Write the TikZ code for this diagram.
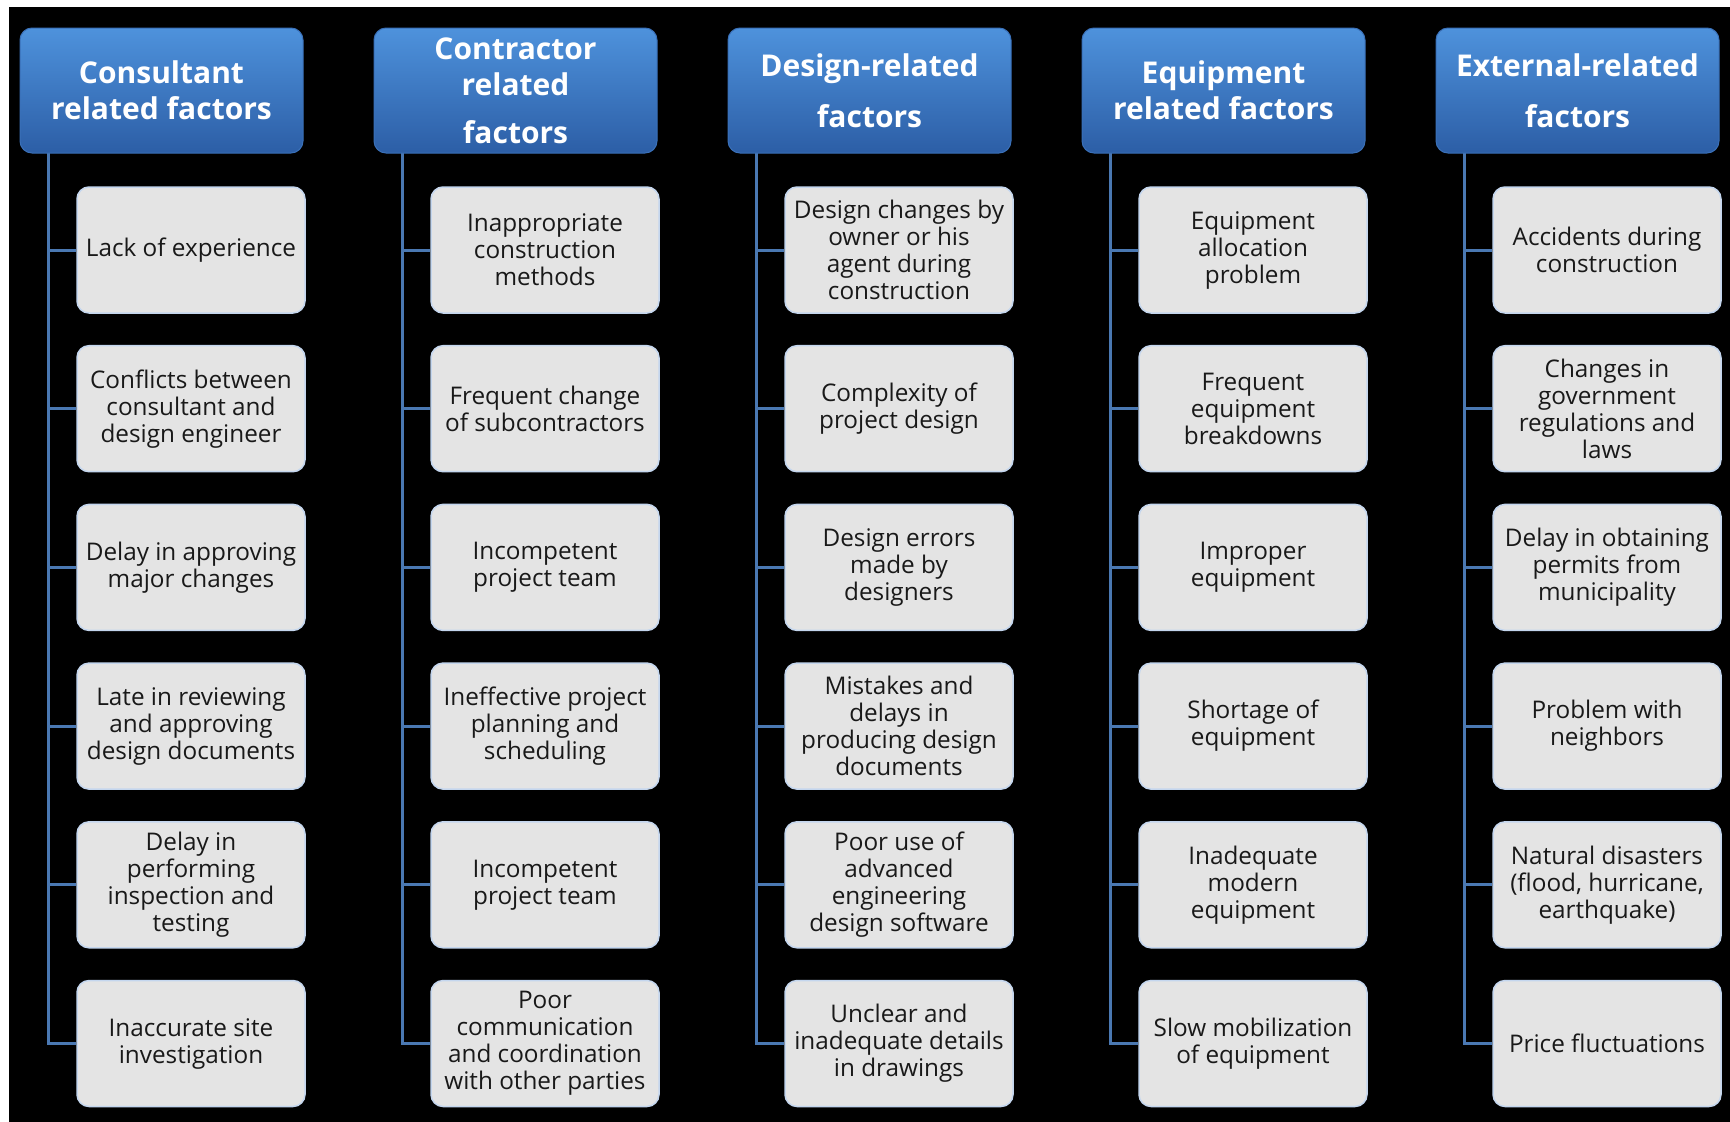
\documentclass[tikz,border=0pt]{standalone}
\usepackage{fontspec}
\setmainfont{Open Sans}
\usetikzlibrary{backgrounds}
\definecolor{hdtop}{RGB}{78,146,220}
\definecolor{hdbot}{RGB}{44,94,166}
\definecolor{hdedge}{RGB}{58,112,184}
\definecolor{itemfill}{RGB}{228,228,228}
\definecolor{itemedge}{RGB}{196,214,238}
\definecolor{linkcol}{RGB}{74,120,178}
\definecolor{itemtext}{RGB}{25,25,25}
\tikzset{
  header/.style={rounded corners=12pt, top color=hdtop, bottom color=hdbot,
    draw=hdedge, line width=1pt, minimum width=283pt, minimum height=125pt,
    inner sep=0pt, align=center, text=white,
    font=\fontsize{30}{36}\selectfont\bfseries},
  item/.style={rounded corners=12pt, fill=itemfill, draw=itemedge,
    line width=1.5pt, minimum width=228pt, minimum height=126pt,
    inner sep=0pt, align=center, text=itemtext,
    font=\fontsize{24.3}{27}\selectfont},
  link/.style={draw=linkcol, line width=3pt},
}
\begin{document}
\begin{tikzpicture}[x=1pt, y=-1pt]
\useasboundingbox (0,0) rectangle (1730,1122);

% column 1: consultant
\node[header] (h1) at (161.5,90.5) {Consultant\\related factors};
\coordinate (s1) at (48,153);
\node[item] (b11) at (191,250)    {Lack of experience};
\node[item] (b12) at (191,408.7)  {Conflicts between\\consultant and\\design engineer};
\node[item] (b13) at (191,567.4)  {Delay in approving\\major changes};
\node[item] (b14) at (191,726.1)  {Late in reviewing\\and approving\\design documents};
\node[item] (b15) at (191,884.8)  {Delay in\\performing\\inspection and\\testing};
\node[item] (b16) at (191,1043.5) {Inaccurate site\\investigation};

% column 2: contractor
\node[header] (h2) at (515.5,90.5) {Contractor\\related\\[12pt]factors};
\coordinate (s2) at (402,153);
\node[item] (b21) at (545,250)    {Inappropriate\\construction\\methods};
\node[item] (b22) at (545,408.7)  {Frequent change\\of subcontractors};
\node[item] (b23) at (545,567.4)  {Incompetent\\project team};
\node[item] (b24) at (545,726.1)  {Ineffective project\\planning and\\scheduling};
\node[item] (b25) at (545,884.8)  {Incompetent\\project team};
\node[item] (b26) at (545,1043.5) {Poor\\communication\\and coordination\\with other parties};

% column 3: design
\node[header] (h3) at (869.5,90.5) {Design-related\\[15pt]factors};
\coordinate (s3) at (756,153);
\node[item] (b31) at (899,250)    {Design changes by\\owner or his\\agent during\\construction};
\node[item] (b32) at (899,408.7)  {Complexity of\\project design};
\node[item] (b33) at (899,567.4)  {Design errors\\made by\\designers};
\node[item] (b34) at (899,726.1)  {Mistakes and\\delays in\\producing design\\documents};
\node[item] (b35) at (899,884.8)  {Poor use of\\advanced\\engineering\\design software};
\node[item] (b36) at (899,1043.5) {Unclear and\\inadequate details\\in drawings};

% column 4: equipment
\node[header] (h4) at (1223.5,90.5) {Equipment\\related factors};
\coordinate (s4) at (1110,153);
\node[item] (b41) at (1253,250)    {Equipment\\allocation\\problem};
\node[item] (b42) at (1253,408.7)  {Frequent\\equipment\\breakdowns};
\node[item] (b43) at (1253,567.4)  {Improper\\equipment};
\node[item] (b44) at (1253,726.1)  {Shortage of\\equipment};
\node[item] (b45) at (1253,884.8)  {Inadequate\\modern\\equipment};
\node[item] (b46) at (1253,1043.5) {Slow mobilization\\of equipment};

% column 5: external
\node[header] (h5) at (1577.5,90.5) {External-related\\[15pt]factors};
\coordinate (s5) at (1464,153);
\node[item] (b51) at (1607,250)    {Accidents during\\construction};
\node[item] (b52) at (1607,408.7)  {Changes in\\government\\regulations and\\laws};
\node[item] (b53) at (1607,567.4)  {Delay in obtaining\\permits from\\municipality};
\node[item] (b54) at (1607,726.1)  {Problem with\\neighbors};
\node[item] (b55) at (1607,884.8)  {Natural disasters\\(flood, hurricane,\\earthquake)};
\node[item] (b56) at (1607,1043.5) {Price fluctuations};

\begin{scope}[on background layer]
% page: thin white margin at top and left, black field
\fill[white] (0,0) rectangle (1730,1122);
\fill[black] (9,7) rectangle (1730,1122);
% tree connectors: spine down to the last box, ticks to the others
\foreach \c in {1,...,5} {
  \draw[link] (s\c) |- (b\c6.west);
  \foreach \r in {1,...,5} {
    \draw[link] (b\c\r.west -| s\c) -- (b\c\r.west);
  }
}
\end{scope}
\end{tikzpicture}
\end{document}
